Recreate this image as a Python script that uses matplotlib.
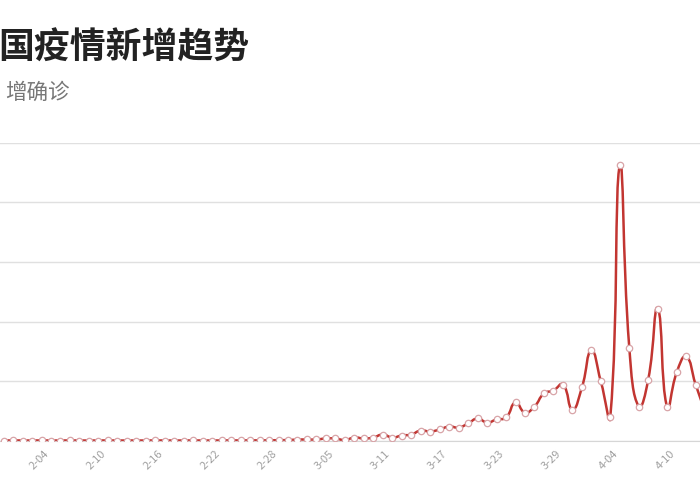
import numpy as np
import pandas as pd
import matplotlib
matplotlib.use("Agg")
import matplotlib.pyplot as plt
from matplotlib.path import Path
from matplotlib.patches import PathPatch

plt.rcParams['font.family'] = ['Noto Sans CJK SC', 'DejaVu Sans']

title = "国疫情新增趋势"
subtitle = "增确诊"

# daily new confirmed, 2020-01-30 .. 2020-04-13
dates = pd.date_range("2020-01-30", "2020-04-13")
feb_vals = [0, 1, 0, 0, 1, 0, 0, 1, 0, 0, 0, 1, 0, 0, 0, 0, 1, 0, 0, 0, 1,
            0, 0, 1, 2, 1, 3, 2, 4, 5, 8]
mar_vals = [15, 17, 17, 34, 34, 8, 50, 34, 50, 100, 50, 84, 100, 168, 151,
            185, 235, 218, 286, 370, 302, 353, 387, 639, 470, 571, 790, 840,
            941, 521, 891]
apr_vals = [1513, 992, 403, 4622, 1563, 571, 1025, 2218, 555, 1143, 1412,
            941, 480]
values = np.array(feb_vals + mar_vals + apr_vals, dtype=float)
labels = [f"{d.month}-{d.day:02d}" for d in dates]

line_color = "#c23531"

fig = plt.figure(figsize=(7, 5), dpi=100)
ax = fig.add_axes([0.0, 0.119, 1.0, 0.595])

x = np.arange(len(values))
ax.set_xlim(5 - 5.38, 5 + 68.46)
ax.set_ylim(0, 5000)

# echarts-like smooth line (bezier through the data points)
smooth = 0.5
pts = ax.transData.transform(np.column_stack([x, values]))
verts = [pts[0]]
codes = [Path.MOVETO]
cps = []
for i in range(len(pts)):
    prev = pts[max(i - 1, 0)]
    nxt = pts[min(i + 1, len(pts) - 1)]
    v = nxt - prev
    d0 = np.hypot(*(pts[i] - prev))
    d1 = np.hypot(*(pts[i] - nxt))
    s = d0 + d1
    if s:
        d0, d1 = d0 / s, d1 / s
    cps.append((pts[i] - v * smooth * d0, pts[i] + v * smooth * d1))
for i in range(1, len(pts)):
    verts += [cps[i - 1][1], cps[i][0], pts[i]]
    codes += [Path.CURVE4] * 3
verts = ax.transData.inverted().transform(np.array(verts))
ax.add_patch(PathPatch(Path(verts, codes), facecolor="none",
                       edgecolor=line_color, lw=1.8, zorder=3))
ax.plot(x, values, linestyle="none", marker="o", markersize=4.6,
        markerfacecolor="white", markeredgecolor="#d8a4a8",
        markeredgewidth=0.9, zorder=4)

ax.set_yticks([0, 1000, 2000, 3000, 4000, 5000])
ax.yaxis.grid(True, color="#e0e0e0", lw=1)
ax.set_axisbelow(True)
ax.tick_params(axis="y", left=False, labelleft=False)
for side in ["left", "right", "top"]:
    ax.spines[side].set_visible(False)
ax.spines["bottom"].set_color("#d6d6d6")

tick_idx = list(range(5, len(values), 6))
ax.set_xticks(tick_idx)
ax.set_xticklabels([labels[i] for i in tick_idx], rotation=45,
                   ha="right", va="top", fontsize=8, color="#a0a0a0")
ax.tick_params(axis="x", length=0, pad=6)

fig.text(-0.002, 0.903, title, ha="left", va="center", fontsize=25.8,
         fontweight="bold", color="#222222")
fig.text(5 / 700, 0.814, subtitle, ha="left", va="center", fontsize=15.5,
         color="#777777")

fig.savefig("out.png", dpi=100)
